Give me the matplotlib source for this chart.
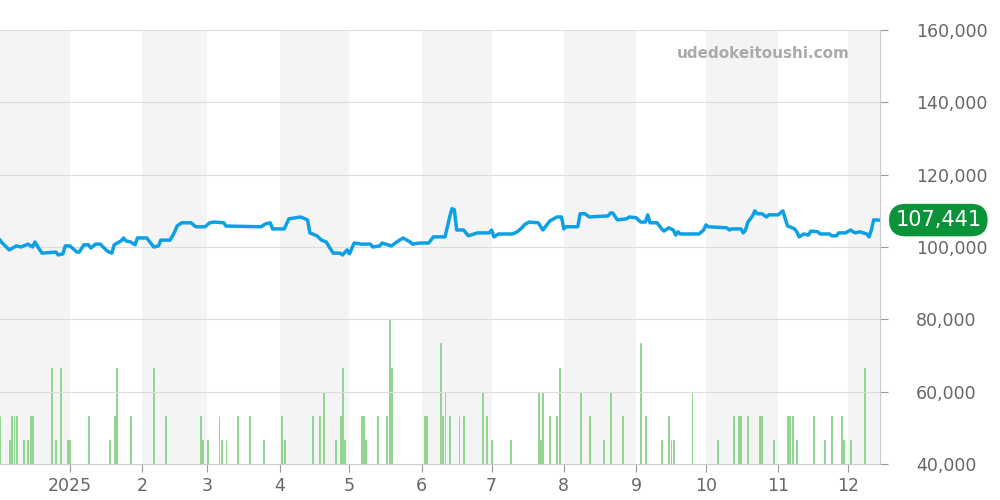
import matplotlib
matplotlib.use("Agg")
import matplotlib.pyplot as plt

# days counted from 2024-12-02
price_day = [0, 1, 4, 7, 9, 12, 14, 15, 16, 18, 24, 25, 27, 28, 30, 33, 34, 36, 38, 39,
             41, 43, 46, 48, 49, 52, 53, 54, 56, 58, 59, 63, 66, 68, 69, 73, 75, 76, 78, 82,
             84, 88, 90, 92, 96, 97, 105, 112, 114, 116, 117, 122, 124, 129, 132, 133, 136, 138, 140, 143,
             146, 147, 149, 150, 152, 155, 159, 160, 163, 164, 168, 171, 173, 176, 177, 180, 184, 186, 191, 193,
             194, 195, 196, 199, 201, 202, 205, 210, 211, 212, 214,
             220, 222, 224, 225, 227, 231, 233, 236, 239, 241, 242, 243, 248, 249, 251, 253, 261, 262, 263, 265,
             269, 270, 273, 275, 277, 278, 279, 282, 284, 285, 287, 289, 290, 291, 292, 300, 302, 303, 304, 312,
             313, 314, 318, 319, 320, 321, 323, 324, 325, 327, 329, 330, 334, 336, 338, 339, 341, 342, 343, 345,
             347, 348, 351, 352, 356, 357, 359, 360, 363, 365, 367, 369, 372, 373, 374, 375, 377]
price_k = [101.9, 101.1, 99.2, 100.3, 100, 100.8, 100, 101.4, 100.3, 98.3, 98.6, 97.8, 98.1, 100.3, 100.3, 98.6, 98.6, 100.6, 100.6, 99.7,
           100.8, 100.8, 98.9, 98.3, 100.6, 101.7, 102.5, 101.7, 101.4, 100.6, 102.5, 102.5, 100, 100.3, 101.9, 101.9, 104.2, 105.8, 106.7, 106.7,
           105.6, 105.6, 106.7, 106.9, 106.7, 105.8, 105.7, 105.6, 106.4, 106.7, 105, 105, 107.8, 108.3, 107.5, 103.9, 103.1, 101.9, 101.4, 98.3,
           98.3, 97.8, 99.2, 98.1, 101.1, 100.8, 100.8, 100, 100.3, 101.1, 100.3, 101.7, 102.5, 101.4, 100.8, 101.1, 101.1, 102.8, 102.8, 108.3,
           110.6, 110.3, 104.7, 104.7, 103.1, 103.3, 103.9, 103.9, 104.7, 102.8, 103.6,
           103.6, 104.2, 105.3, 106.1, 106.9, 106.7, 104.7, 107.2, 108.3, 108.3, 105, 105.6, 105.6, 109.2, 109.2, 108.3, 108.6, 109.4, 109.4, 107.5,
           107.8, 108.3, 108.1, 106.9, 106.9, 108.9, 106.7, 106.7, 105, 104.4, 105.3, 104.7, 103.3, 104.2, 103.6, 103.6, 104.7, 106.1, 105.6, 105.3,
           104.7, 105, 105, 103.9, 104.7, 106.9, 108.6, 110, 109.2, 109.2, 108.3, 108.9, 108.9, 110, 105.8, 105.6, 105, 104.2, 102.8, 103.6,
           103.3, 104.4, 104.2, 103.6, 103.6, 103.1, 103.1, 103.9, 103.9, 104.7, 103.9, 104.2, 103.6, 102.8, 104.7, 107.5, 107.441]

vol_day = [0, 4, 5, 6, 7, 10, 12, 13, 14, 22, 24, 26, 29, 30, 38, 47, 49, 50, 56, 66,
           71, 86, 87, 89, 94, 95, 97, 102, 107, 113, 121, 122, 134, 137, 139, 144, 146, 147, 148, 155,
           156, 157, 162, 166, 167, 168, 182, 183, 189, 190, 191, 193, 197, 199, 207, 209, 211, 219, 231, 232,
           233, 236, 239, 240, 249, 253, 259, 262, 267, 275, 277, 284, 287, 288, 289, 297, 308, 315, 317, 318,
           321, 326, 327, 332, 338, 339, 340, 342, 349, 354, 357, 361, 362, 365, 371]
vol_n = [2, 1, 2, 2, 2, 1, 1, 2, 2, 4, 1, 4, 1, 1, 2, 1, 2, 4, 2, 4,
         2, 2, 1, 1, 2, 1, 1, 2, 2, 1, 2, 1, 2, 2, 3, 1, 2, 4, 1, 2,
         2, 1, 2, 2, 6, 4, 2, 2, 5, 2, 3, 2, 2, 2, 3, 2, 1, 1, 3, 1,
         3, 2, 2, 4, 3, 2, 1, 3, 2, 5, 2, 1, 2, 1, 1, 3, 1, 2, 2, 2,
         2, 2, 2, 1, 2, 2, 2, 1, 2, 1, 2, 2, 1, 1, 4]

month_day = [30, 61, 89, 120, 150, 181, 211, 242, 273, 303, 334, 364]
month_lab = ["2025", "2", "3", "4", "5", "6", "7", "8", "9", "10", "11", "12"]
shade = [(0, 30), (61, 89), (120, 150), (181, 211), (242, 273), (303, 334), (364, 378)]
last = 107441

fig = plt.figure(figsize=(10, 5), dpi=100)
ax = fig.add_axes([0, 0.072, 0.88, 0.868])
END = 377.7
ax.set_xlim(0, END)
ax.set_ylim(40000, 160000)

# volume axis sits underneath the price axis; shading goes on it
vx = ax.twinx()
vx.set_ylim(0, 18)
for a, b in shade:
    vx.axvspan(a, b, color="#f4f4f4", lw=0, zorder=0)
vx.bar(vol_day, vol_n, width=0.4, color="#8fd68f", edgecolor="#8fd68f", lw=0.7, zorder=2)
vx.set_yticks([])
for s in vx.spines.values():
    s.set_visible(False)

ax.set_zorder(vx.get_zorder() + 1)
ax.patch.set_visible(False)
for y in range(60000, 160001, 20000):
    ax.axhline(y, color="#dddddd", lw=0.8, zorder=1)
ax.plot(price_day, [v * 1000 for v in price_k], color="#0ea0e4", lw=2.5, zorder=3)

ax.yaxis.tick_right()
ax.set_yticks(range(40000, 160001, 20000))
ax.set_yticklabels([f"{v:,}" for v in range(40000, 160001, 20000)])
ax.set_xticks(month_day)
ax.set_xticklabels(month_lab)
ax.tick_params(colors="#666666", labelsize=12.5, length=6, width=0.8)
ax.tick_params(axis="y", color="#999999", pad=20)
ax.tick_params(axis="x", color="#999999")
for k, s in ax.spines.items():
    s.set_visible(k in ("bottom", "right"))
    s.set_color("#cccccc")

ax.text(0.965, 0.945, "udedokeitoushi.com", transform=ax.transAxes, ha="right",
        va="center", fontsize=11, fontweight="bold", color="#aaaaaa")
ax.annotate(f"{last:,}", xy=(1, last), xycoords=("axes fraction", "data"),
            xytext=(42, 0), textcoords="offset points", ha="center", va="center",
            fontsize=15, color="white",
            bbox=dict(boxstyle="round,pad=0.3,rounding_size=0.8", fc="#0a9339", ec="none"))

fig.savefig("out.png", dpi=100)
